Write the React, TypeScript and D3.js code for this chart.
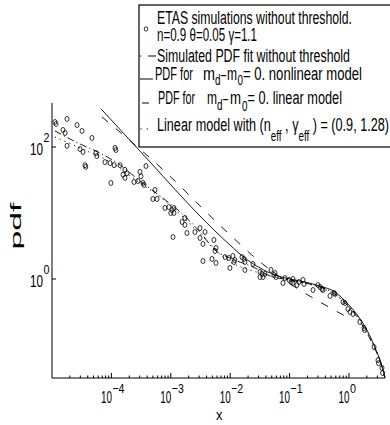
import React, { useRef, useEffect } from 'react';
import * as d3 from 'd3';

// ETAS simulated pdf (open circles)
const simX = [
  1.12e-5, 1.17e-5, 1.79e-5, 1.53e-5, 1.66e-5, 2.64e-5, 3.2e-5, 4.7e-5, 1.79e-5, 2.96e-5,
  3.33e-5, 5.5e-5, 5.7e-5, 3.6e-5, 3.7e-5, 7.8e-5, 9.5e-5, 1.15e-4, 1.19e-4, 1.11e-4,
  1.40e-4, 1.69e-4, 1.83e-4, 1.57e-4, 1.69e-4, 9.8e-5, 3.03e-4, 3.15e-4, 2.8e-4, 3.4e-4,
  3.54e-4, 3.82e-4, 2.4e-4,
  5.42e-4, 5.0e-4, 5.86e-4, 7.98e-4, 9.3e-4, 1.05e-3, 1.13e-3, 1.0e-3, 1.13e-3, 1.73e-3,
  1.55e-3, 1.73e-3, 1.09e-3, 1.87e-3, 2.55e-3, 3.1e-3, 3.77e-3, 3.1e-3, 3.48e-3, 5.33e-3,
  5.77e-3,
  3.48e-3, 4.94e-3, 5.55e-3, 5.77e-3, 8.2e-3, 9.55e-3, 1.11e-2, 1.2e-2, 1.16e-2, 9.9e-3,
  1.58e-2, 1.71e-2, 1.77e-2, 1.77e-2, 2.42e-2, 3.18e-2, 3.43e-2, 3.57e-2, 3.18e-2, 3.85e-2,
  4.86e-2, 5.46e-2, 5.9e-2, 5.68e-2, 8.37e-2, 9.77e-2, 0.106, 0.114, 0.133, 7.74e-2, 0.114,
  0.144, 0.168, 0.175, 0.248, 0.30, 0.325, 0.351, 0.364, 0.479, 0.559,
  0.58, 0.793, 0.857, 0.962, 1.04, 1.17, 1.53, 1.79, 1.83, 2.64,
  3.08, 3.15, 3.59, 3.68,
];
const simY = [
  239, 223, 266, 181, 163, 215, 175, 137, 104, 93,
  84, 81, 73, 53, 50, 59, 57, 97, 90, 53,
  53, 45, 40, 38, 34, 28.5, 42, 36, 30.5, 28.5,
  26.6, 51.5, 29.5,
  22.3, 16.3, 16.3, 11.9, 12.3, 11.1, 11.9, 10, 10, 8.4,
  7.3, 6.6, 4.33, 4.98, 5.15, 5.9, 5.15, 4.18, 3.39, 3.9,
  2.95,
  1.87, 2.01, 2.66, 1.75, 2.15, 2.08, 2.23, 1.94, 1.81, 1.47,
  2.15, 2.01, 1.81, 1.37, 1.69, 1.28, 1.19, 1.07, 1.07, 1.19,
  1.37, 1.15, 1.07, 1.23, 1.035, 0.966, 0.90, 1.0, 0.81, 0.87, 0.87,
  0.90, 0.966, 0.84, 0.68, 0.81, 0.757, 0.706, 0.68, 0.553, 0.614,
  0.593, 0.448, 0.433, 0.351, 0.316, 0.295, 0.223, 0.181, 0.169, 0.093,
  0.059, 0.053, 0.045, 0.0377,
];

// simulated PDF fit (dash-dot)
const fitX = [1.12e-5, 2.96e-5, 6.43e-5, 1.40e-4, 3.03e-4, 6.58e-4, 1.43e-3, 3.1e-3, 5.55e-3, 9.9e-3, 2.62e-2, 4.68e-2, 0.1016, 0.182, 0.325, 0.58, 0.857, 1.26, 1.83, 2.74, 3.46, 3.88];
const fitY = [175, 111, 81, 53.4, 30.5, 18.1, 10.4, 5.15, 2.75, 2.08, 1.47, 1.11, 0.966, 0.87, 0.757, 0.593, 0.433, 0.295, 0.175, 0.087, 0.0515, 0.034];

// nonlinear model (solid)
const nonlinX = [6.7e-5, 4.47e-4, 3.1e-3, 9.9e-3, 1.77e-2, 3.18e-2, 5.68e-2, 0.1016, 0.182, 0.325, 0.58, 0.925, 1.42, 2.09, 2.85, 3.59, 4.04];
const nonlinY = [377, 59.3, 9.0, 3.27, 2.08, 1.47, 1.15, 1.0, 0.90, 0.78, 0.635, 0.433, 0.275, 0.157, 0.084, 0.048, 0.0316];

// linear model (dashed)
const linX = [6.95e-5, 6.58e-4, 8.83e-3, 3.18e-2, 0.123, 0.325, 0.857];
const linY = [285, 49.8, 5.15, 1.81, 0.757, 0.448, 0.275];

// linear model with n_eff, gamma_eff (dotted)
const effX = [1.12e-5, 2.96e-5, 9.5e-5, 3.03e-4, 9.7e-4, 3.1e-3, 9.9e-3, 2.15e-2, 5.68e-2, 0.15, 0.479, 1.04, 1.83, 3.08, 4.04];
const effY = [142, 96.6, 59.3, 28.5, 13.2, 4.8, 1.81, 1.37, 1.07, 0.90, 0.635, 0.377, 0.187, 0.0705, 0.034];

const xTickExps = [-4, -3, -2, -1, 0];
const yTickExps = [0, 2];

const FONT = "'Liberation Sans', Arial, sans-serif";

export default function App() {
  const chartRef = useRef<SVGSVGElement>(null);

  useEffect(() => {
    draw();
  }, []);

  function draw() {
    const svg = d3.select(chartRef.current);
    svg.selectAll('*').remove();
    svg.attr('font-family', FONT);

    const x = d3.scaleLog().domain([1e-5, 4.04]).range([52, 385]);
    const y = d3.scaleLog().domain([0.0316, 464]).range([378, 103]);

    // text squeezed to a given width (the original font is very condensed)
    const txt = (g: any, s: string, x0: number, x1: number, yy: number, size: number) =>
      g.append('text')
        .attr('x', x0)
        .attr('y', yy)
        .attr('font-size', size)
        .attr('textLength', x1 - x0)
        .attr('lengthAdjust', 'spacingAndGlyphs')
        .text(s);

    // axes
    svg.append('line').attr('x1', 52).attr('x2', 52).attr('y1', 103).attr('y2', 378)
      .attr('stroke', '#000').attr('stroke-width', 1);
    svg.append('line').attr('x1', 52).attr('x2', 385).attr('y1', 378).attr('y2', 378)
      .attr('stroke', '#000').attr('stroke-width', 1);

    const xt = x.ticks().filter(t => t > 1.01e-5);
    svg.append('g').selectAll('line')
      .data(xt)
      .enter()
      .append('line')
      .attr('x1', d => x(d)).attr('x2', d => x(d))
      .attr('y1', 378)
      .attr('y2', d => Math.abs(Math.log10(d) - Math.round(Math.log10(d))) < 1e-6 ? 373 : 375.5)
      .attr('stroke', '#000').attr('stroke-width', 1);

    xTickExps.forEach(e => {
      const tx = x(Math.pow(10, e));
      txt(svg, '10', tx - 10.5, tx + 0.5, 403, 17);
      const sup = e === 0 ? '0' : '\u2212' + (-e);
      txt(svg, sup, tx + 1, tx + 1 + sup.length * 6, 392.5, 13);
    });

    yTickExps.forEach(e => {
      const ty = y(Math.pow(10, e));
      svg.append('line').attr('x1', 52).attr('x2', 56).attr('y1', ty).attr('y2', ty)
        .attr('stroke', '#000').attr('stroke-width', 1);
      txt(svg, '10', 30, 43, ty + 8, 17);
      txt(svg, String(e), 43.5, 49.5, ty - 5, 13);
    });

    // axis titles
    svg.append('text')
      .attr('transform', 'translate(21,226) rotate(-90)')
      .attr('text-anchor', 'middle')
      .attr('font-size', 15)
      .attr('textLength', 47)
      .attr('lengthAdjust', 'spacingAndGlyphs')
      .text('pdf');
    txt(svg, 'x', 216, 222.5, 420, 15);

    // model curves
    const line = (xs: number[], ys: number[]) =>
      d3.line<number>()
        .x((d, i) => x(xs[i]))
        .y((d, i) => y(ys[i]))
        .curve(d3.curveMonotoneX)(xs);

    const curves = [
      { xs: nonlinX, ys: nonlinY, dash: null },
      { xs: linX, ys: linY, dash: '8,10' },
      { xs: fitX, ys: fitY, dash: '7,3,1.2,3' },
      { xs: effX, ys: effY, dash: '1.2,4' },
    ];
    curves.forEach(c => {
      svg.append('path')
        .attr('d', line(c.xs, c.ys))
        .attr('fill', 'none')
        .attr('stroke', '#000')
        .attr('stroke-width', 0.9)
        .attr('stroke-dasharray', c.dash);
    });

    // simulated points
    svg.append('g').selectAll('ellipse')
      .data(simX)
      .enter()
      .append('ellipse')
      .attr('cx', d => x(d))
      .attr('cy', (d, i) => y(simY[i]))
      .attr('rx', 2)
      .attr('ry', 2.5)
      .attr('fill', 'none')
      .attr('stroke', '#000')
      .attr('stroke-width', 0.8);

    // legend
    const lg = svg.append('g');
    lg.append('rect').attr('x', 139).attr('y', 5).attr('width', 260).attr('height', 142)
      .attr('fill', '#fff').attr('stroke', '#000').attr('stroke-width', 1.2);

    lg.append('ellipse').attr('cx', 146).attr('cy', 29).attr('rx', 1.8).attr('ry', 2.2)
      .attr('fill', 'none').attr('stroke', '#000').attr('stroke-width', 0.8);
    lg.append('line').attr('x1', 140).attr('x2', 156).attr('y1', 56).attr('y2', 56)
      .attr('stroke', '#000').attr('stroke-dasharray', '1.2,7,8');
    lg.append('line').attr('x1', 140).attr('x2', 153).attr('y1', 79).attr('y2', 79)
      .attr('stroke', '#000');
    lg.append('line').attr('x1', 142).attr('x2', 149).attr('y1', 103).attr('y2', 103)
      .attr('stroke', '#000');
    lg.append('line').attr('x1', 140.5).attr('x2', 148).attr('y1', 129).attr('y2', 129)
      .attr('stroke', '#000').attr('stroke-dasharray', '1.2,5');

    txt(lg, 'ETAS simulations without threshold.', 157, 352, 24, 18);
    txt(lg, 'n=0.9 \u03b8=0.05 \u03b3=1.1', 157, 257, 41, 18);
    txt(lg, 'Simulated PDF fit without threshold', 157, 350, 62, 18);

    txt(lg, 'PDF for', 155, 193, 80, 18);
    txt(lg, 'm', 203, 215, 80, 18);
    txt(lg, 'd', 215, 220.5, 85, 14);
    txt(lg, '\u2013', 221, 226, 80, 18);
    txt(lg, 'm', 227, 237, 80, 18);
    txt(lg, '0', 237.5, 243, 85, 14);
    txt(lg, '= 0. nonlinear model', 243, 362, 80, 18);

    txt(lg, 'PDF for', 158, 195, 104, 18);
    txt(lg, 'm', 207, 217, 104, 18);
    txt(lg, 'd', 217, 222.5, 110, 14);
    txt(lg, '\u2013', 223, 228, 104, 18);
    txt(lg, 'm', 230, 241, 104, 18);
    txt(lg, '0', 242, 247.5, 111, 14);
    txt(lg, '= 0. linear model', 247.5, 342, 104, 18);

    // last row as one squeezed line with subscripts
    const r6 = lg.append('text')
      .attr('x', 157)
      .attr('y', 131)
      .attr('font-size', 18)
      .attr('textLength', 232)
      .attr('lengthAdjust', 'spacingAndGlyphs');
    r6.append('tspan').text('Linear model with (n');
    r6.append('tspan').attr('dy', 10).attr('font-size', 14).text('eff');
    r6.append('tspan').attr('dy', -10).text(' , \u03b3');
    r6.append('tspan').attr('dy', 10).attr('font-size', 14).text('eff');
    r6.append('tspan').attr('dy', -10).text(' ) = (0.9, 1.28)');
  }

  return (
    <svg ref={chartRef} width={390} height={425}
      style={{ position: 'absolute', top: 0, left: 0, background: '#fff' }} />
  );
}
